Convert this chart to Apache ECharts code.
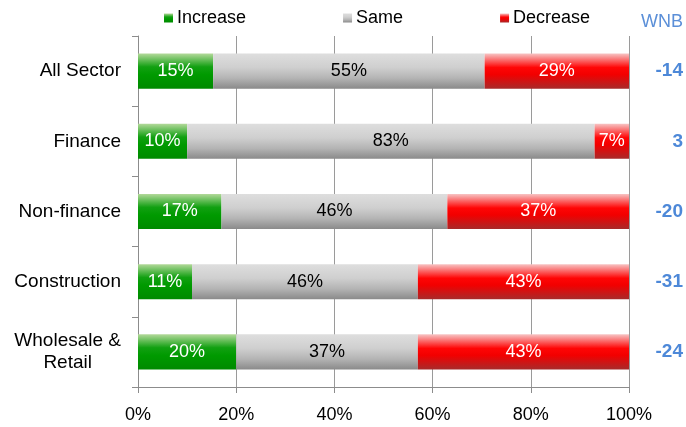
<!DOCTYPE html>
<html>
<head>
<meta charset="utf-8">
<script src="https://cdn.jsdelivr.net/npm/echarts@6/dist/echarts.min.js"></script>
<style>
html,body{margin:0;padding:0;background:#fff;}
#c{width:686px;height:427px;}
</style>
</head>
<body>
<div id="c"></div>
<script>
const categories = ['All Sector', 'Finance', 'Non-finance', 'Construction', 'Wholesale & Retail'];
const increase = [15.3, 10, 17, 11, 20];
const same = [55.3, 83, 46, 46, 37];
const decrease = [29.4, 7, 37, 43, 43];
const wnb = ['-14', '3', '-20', '-31', '-24'];
const xTicks = [0, 20, 40, 60, 80, 100];

function grad(stops) {
  return new echarts.graphic.LinearGradient(0, 0, 0, 1, stops.map(s => ({offset: s[0], color: s[1]})));
}
const greenG = grad([[0, '#b3d99a'], [0.38, '#12a012'], [0.6, '#009a00'], [1, '#008a00']]);
const grayG = grad([[0, '#dedede'], [0.4, '#cfcfcf'], [0.7, '#b4b4b4'], [1, '#8a8a8a']]);
const redG = grad([[0, '#f7c4c4'], [0.4, '#ff0505'], [0.6, '#f20000'], [1, '#a82a2a']]);

const chart = echarts.init(document.getElementById('c'), null, {renderer: 'canvas'});
const FONT = 'Liberation Sans, Arial, sans-serif';

function barSeries(name, data, color, labelColor) {
  return {
    name: name,
    type: 'bar',
    stack: 'total',
    barWidth: '50%',
    data: data,
    itemStyle: {color: color},
    label: {
      show: true,
      position: 'inside',
      formatter: p => Math.round(p.value) + '%',
      color: labelColor,
      fontSize: 18,
      fontFamily: FONT
    }
  };
}

chart.setOption({
  animation: false,
  textStyle: {fontFamily: FONT},
  title: {
    text: 'WNB',
    left: 641,
    top: 13,
    padding: 0,
    textStyle: {color: '#5b8fd8', fontSize: 18, fontWeight: 'normal', fontFamily: FONT}
  },
  legend: {
    data: ['Increase', 'Same', 'Decrease'],
    left: 164,
    top: 9,
    padding: 0,
    itemWidth: 9,
    itemHeight: 9,
    itemGap: 97,
    icon: 'rect',
    textStyle: {fontSize: 18, color: '#000', fontFamily: FONT, padding: [0, 0, 0, -1]}
  },
  grid: {left: 138, right: 56, top: 36, bottom: 40, containLabel: false},
  xAxis: {
    type: 'value',
    min: 0,
    max: 100,
    interval: 20,
    axisLine: {show: true, lineStyle: {color: '#8c8c8c', width: 1}},
    axisTick: {show: true, length: 6, lineStyle: {color: '#8c8c8c'}},
    splitLine: {show: true, lineStyle: {color: '#9a9a9a', width: 1}},
    axisLabel: {
      fontSize: 18, color: '#000', margin: 19, fontFamily: FONT,
      formatter: v => xTicks.includes(v) ? v + '%' : ''
    }
  },
  yAxis: [
    {
      type: 'category',
      inverse: true,
      data: categories,
      axisLine: {show: true, lineStyle: {color: '#8c8c8c'}},
      axisTick: {show: true, length: 6, lineStyle: {color: '#8c8c8c'}},
      axisLabel: {
        fontSize: 19,
        color: '#000',
        margin: 17,
        lineHeight: 22,
        fontFamily: FONT,
        formatter: function (v) {
          if (v === 'Wholesale & Retail') return '{c|Wholesale &}\n{c|Retail}';
          return v;
        },
        rich: {c: {align: 'center', fontSize: 19, lineHeight: 22, color: '#000', fontFamily: FONT}}
      }
    },
    {
      type: 'category',
      inverse: true,
      position: 'right',
      data: wnb,
      axisLine: {show: false},
      axisTick: {show: false},
      axisLabel: {
        fontSize: 19,
        fontWeight: 'bold',
        color: '#4d88d8',
        align: 'right',
        margin: 54,
        fontFamily: FONT
      }
    }
  ],
  series: [
    barSeries('Increase', increase, greenG, '#fff'),
    barSeries('Same', same, grayG, '#000'),
    barSeries('Decrease', decrease, redG, '#fff')
  ]
});
</script>
</body>
</html>
